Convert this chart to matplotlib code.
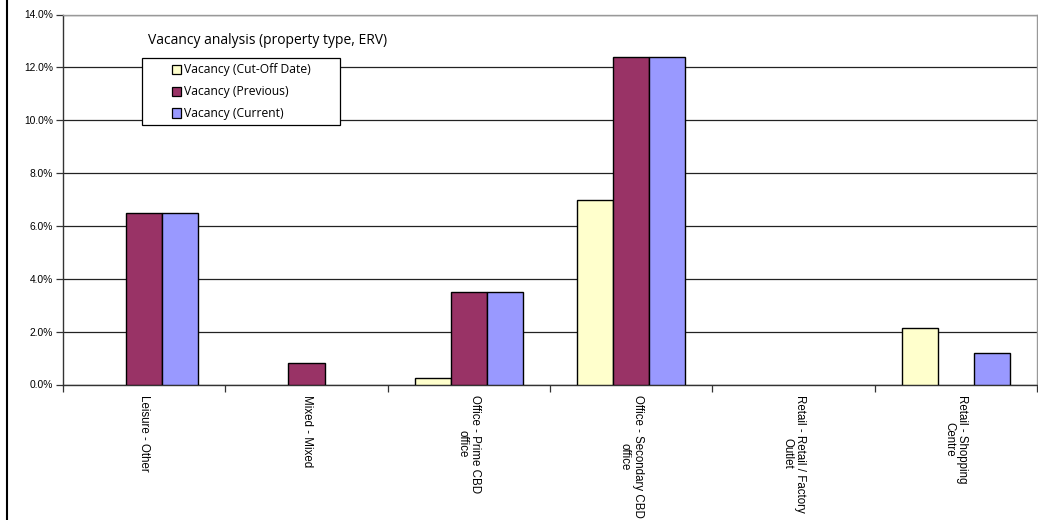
import matplotlib
matplotlib.use("Agg")
import matplotlib.pyplot as plt
from matplotlib.patches import Rectangle
from matplotlib.lines import Line2D
from matplotlib.ticker import FixedLocator, PercentFormatter
import numpy as np

categories = ["Leisure - Other", "Mixed - Mixed", "Office - Prime CBD\noffice",
              "Office - Secondary CBD\noffice", "Retail - Retail / Factory\nOutlet",
              "Retail - Shopping\nCentre"]
series_names = ["Vacancy (Cut-Off Date)", "Vacancy (Previous)", "Vacancy (Current)"]
cutoff = [0.0, 0.0, 0.25, 7.0, 0.0, 2.13]
previous = [6.5, 0.83, 3.5, 12.38, 0.0, 0.0]
current = [6.5, 0.0, 3.5, 12.38, 0.0, 1.2]
yticks = [0, 2, 4, 6, 8, 10, 12, 14]
title = "Vacancy analysis (property type, ERV)"

colors = ["#FFFFCC", "#993366", "#9999FF"]

W, H = 1038, 520
fig = plt.figure(figsize=(W / 100, H / 100), dpi=100)
fig.patch.set_facecolor("white")

def fx(px):
    return px / W

def fy(py):
    return 1 - py / H

ax = fig.add_axes([fx(63), fy(384.5), fx(1037) - fx(63), fy(14.5) - fy(384.5)])

x = np.arange(len(categories))
w = 0.222
for i, (vals, c) in enumerate(zip([cutoff, previous, current], colors)):
    bars = ax.bar(x + (i - 1) * w, vals, width=w, color=c, edgecolor="black",
                  linewidth=1.0, zorder=3, label=series_names[i])
    for b, v in zip(bars, vals):
        if v == 0:
            b.set_visible(False)

ax.set_xlim(-0.5, len(categories) - 0.5)
ax.set_ylim(0, 14)
ax.yaxis.set_major_locator(FixedLocator(yticks))
ax.yaxis.set_major_formatter(PercentFormatter(decimals=1))
ax.grid(axis="y", color="#222222", linewidth=0.9, zorder=0)
ax.set_axisbelow(True)

ax.set_xticks(x)
ax.set_xticklabels(categories, rotation=270, ha="center", va="top",
                   multialignment="center", fontsize=8.3, linespacing=1.1,
                   family=["Liberation Sans", "DejaVu Sans"])
ax.tick_params(axis="x", which="major", length=0, pad=7.5)
ax.set_xticks(np.arange(-0.5, len(categories) + 0.5, 1), minor=True)
ax.tick_params(axis="x", which="minor", length=5, width=0.9, direction="out", color="#333333")
ax.tick_params(axis="y", length=5, width=0.9, direction="out", pad=2, labelsize=7.4, color="#333333")
for lab in ax.get_yticklabels():
    lab.set_family(["Liberation Sans Narrow", "Liberation Sans", "DejaVu Sans"])

for s in ["top", "right"]:
    ax.spines[s].set_color("#999999")
    ax.spines[s].set_linewidth(1.0)
for s in ["left", "bottom"]:
    ax.spines[s].set_color("#333333")
    ax.spines[s].set_linewidth(1.0)

# title inside plot
fig.text(fx(148), fy(40), title, ha="left", va="center", fontsize=10,
         family=["Open Sans", "DejaVu Sans"])

# legend box drawn manually
lx0, ly0, lx1, ly1 = 142, 58, 340, 125
fig.patches.append(Rectangle((fx(lx0), fy(ly1)), fx(lx1) - fx(lx0), fy(ly0) - fy(ly1),
                             transform=fig.transFigure, facecolor="white",
                             edgecolor="black", linewidth=0.9, zorder=10))
row_y = [70, 91.5, 113]
for name, c, yy in zip(series_names, colors, row_y):
    fig.patches.append(Rectangle((fx(172), fy(yy + 4.5)), fx(9), 9 / H,
                                 transform=fig.transFigure, facecolor=c,
                                 edgecolor="black", linewidth=0.9, zorder=11))
    fig.text(fx(183.5), fy(yy), name, ha="left", va="center", fontsize=8.7,
             family=["Open Sans", "DejaVu Sans"], zorder=12)

# chart area left border
fig.lines.append(Line2D([fx(7), fx(7)], [0, 1], transform=fig.transFigure,
                        color="black", linewidth=1.5))

fig.savefig("out.png", dpi=100)
